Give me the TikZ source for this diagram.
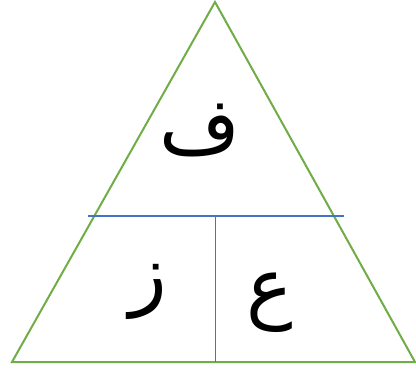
\documentclass[tikz,border=0pt]{standalone}
\usepackage{fontspec}
\newfontfamily\arabicfont[Script=Arabic]{DejaVu Sans}
\TeXXeTstate=1
\definecolor{tgreen}{HTML}{70AD47}
\definecolor{lblue}{HTML}{4472C4}
\begin{document}
\begin{tikzpicture}[x=1pt,y=-1pt,
  tri/.style={draw=tgreen,line width=2pt,line join=miter},
  divl/.style={draw=lblue,line width=1.2pt},
  letter/.style={font=\arabicfont\fontsize{78}{80}\selectfont,inner sep=0pt}]
\useasboundingbox (0,0) rectangle (416,369);
\coordinate (A) at (215,2);
\coordinate (B) at (12,362);
\coordinate (C) at (415,362);
\draw[tri] (A) -- (B) -- (C) -- cycle;
\coordinate (hl) at (88,216);
\coordinate (hr) at (344,216);
\coordinate (vt) at (215.5,216);
\coordinate (vb) at (215.5,362);
\draw[divl] (hl) -- (hr);
\draw[divl] (vt) -- (vb);
\node[letter] (f) at (200,130) {\beginR ف\endR};
\node[letter] (z) at (148,292) {\beginR ز\endR};
\node[letter] (a) at (270,303) {\beginR ع\endR};
\end{tikzpicture}
\end{document}
